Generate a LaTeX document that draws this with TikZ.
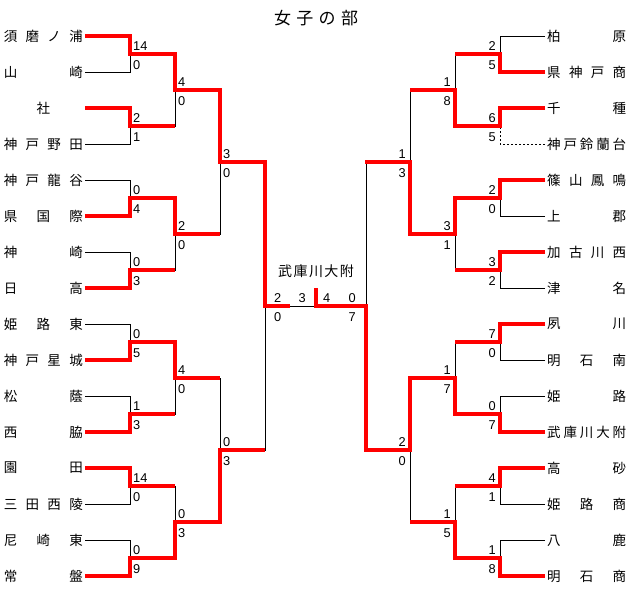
\documentclass[tikz,border=0pt]{standalone}
\usepackage{fontspec}
\setmainfont{Liberation Sans}
\newfontfamily\jp{Noto Sans CJK JP}
\usetikzlibrary{positioning}

% spread the characters of a name over a fixed width
\newcommand\spreadname[2][79pt]{\makebox[#1][s]{\expandafter\spreadstep#2\relax}}
\def\spreadstep#1#2{#1\ifx\relax#2\else\hfill\expandafter\spreadstep\expandafter#2\fi}

\begin{document}
\begin{tikzpicture}[x=1pt,y=-1pt,
    win/.style={red,line width=3.4pt},
    lose/.style={black,line width=1pt},
    gap/.style={lose,dash pattern=on 2pt off 2pt},
    team/.style={inner xsep=2pt,inner ysep=0pt,font=\jp\fontsize{13.5}{16}\selectfont},
    score/.style={inner sep=0pt,font=\fontsize{12.8}{14}\selectfont}]

  \path[use as bounding box,fill=white] (0,0) rectangle (631,595);

  \node[font=\jp\fontsize{17}{20}\selectfont] (title) at (316,18) {\spreadname[84pt]{女子の部}};

  %==================== Teams ====================
  \foreach \i/\n in {1/須磨ノ浦,2/山崎,3/\hfill 社\hfill,4/神戸野田,
      5/神戸龍谷,6/県国際,7/神崎,8/日高,9/姫路東,10/神戸星城,
      11/松蔭,12/西脇,13/園田,14/三田西陵,15/尼崎東,16/常盤} {
    \node[team,anchor=east] (l\i) at (85,36*\i) {\spreadname{\n}};
  }
  \foreach \i/\n in {1/柏原,2/県神戸商,3/千種,4/神戸鈴蘭台,
      5/篠山鳳鳴,6/上郡,7/加古川西,8/津名,9/夙川,10/明石南,
      11/姫路,12/武庫川大附,13/高砂,14/姫路商,15/八鹿,16/明石商} {
    \node[team,anchor=west] (r\i) at (545,36*\i) {\spreadname{\n}};
  }

  %==================== Bracket points ====================
  \foreach \k in {1,...,8} {
    \coordinate (la\k) at (130,72*\k-18);
    \coordinate (ra\k) at (500,72*\k-18);
  }
  \foreach \k in {1,...,4} {
    \coordinate (lb\k) at (175,144*\k-54);
    \coordinate (rb\k) at (455,144*\k-54);
  }
  \foreach \k in {1,2} {
    \coordinate (lc\k) at (220,288*\k-126);
    \coordinate (rc\k) at (410,288*\k-126);
  }
  \coordinate (ld) at (265,306);
  \coordinate (rd) at (366,306);
  \coordinate (lf) at (290,306);
  \coordinate (fin) at (316,306);
  \coordinate (cup) at (316,288);

  % game / upper / lower / winner / upper score / lower score / lower line
  \def\leftgames{la1/l1/l2/l1/14/0/lose,la2/l3/l4/l3/2/1/lose,
    la3/l5/l6/l6/0/4/lose,la4/l7/l8/l8/0/3/lose,
    la5/l9/l10/l10/0/5/lose,la6/l11/l12/l12/1/3/lose,
    la7/l13/l14/l13/14/0/lose,la8/l15/l16/l16/0/9/lose,
    lb1/la1/la2/la1/4/0/lose,lb2/la3/la4/la3/2/0/lose,
    lb3/la5/la6/la5/4/0/lose,lb4/la7/la8/la8/0/3/lose,
    lc1/lb1/lb2/lb1/3/0/lose,lc2/lb3/lb4/lb4/0/3/lose}
  \def\rightgames{ra1/r1/r2/r2/2/5/lose,ra2/r3/r4/r3/6/5/gap,
    ra3/r5/r6/r5/2/0/lose,ra4/r7/r8/r7/3/2/lose,
    ra5/r9/r10/r9/7/0/lose,ra6/r11/r12/r12/0/7/lose,
    ra7/r13/r14/r13/4/1/lose,ra8/r15/r16/r16/1/8/lose,
    rb1/ra1/ra2/ra2/1/8/lose,rb2/ra3/ra4/ra3/3/1/lose,
    rb3/ra5/ra6/ra6/1/7/lose,rb4/ra7/ra8/ra8/1/5/lose,
    rc1/rb1/rb2/rb2/1/3/lose,rc2/rb3/rb4/rb3/2/0/lose}

  %==================== Black lines first ====================
  \foreach \gj/\gu/\gd/\gw/\gs/\gt/\gl in \leftgames {
    \draw[lose] (\gu) -| (\gj);
    \draw[\gl] (\gd) -| (\gj);
  }
  \foreach \gj/\gu/\gd/\gw/\gs/\gt/\gl in \rightgames {
    \draw[lose] (\gu) -| (\gj);
    \draw[\gl] (\gd) -| (\gj);
  }
  \draw[lose] (lc1) -| (ld) (lc2) -| (ld);
  \draw[lose] (rc1) -| (rd) (rc2) -| (rd);
  \draw[lose] (lf) -- (fin);

  %==================== Winners in red, with scores ====================
  \foreach \gj/\gu/\gd/\gw/\gs/\gt/\gl in \leftgames {
    \draw[win] (\gw) -| (\gj) -- +(45,0);
    \node[score,above right=3pt and 3pt of \gj] (\gj u) {\gs};
    \node[score,below right=6pt and 3pt of \gj] (\gj d) {\gt};
  }
  \foreach \gj/\gu/\gd/\gw/\gs/\gt/\gl in \rightgames {
    \draw[win] (\gw) -| (\gj) -- +(-45,0);
    \node[score,above left=3pt and 4pt of \gj] (\gj u) {\gs};
    \node[score,below left=6pt and 4pt of \gj] (\gj d) {\gt};
  }

  % semifinals and final
  \draw[win] (lc1) -| (ld) -- (lf);
  \draw[win] (rc2) -| (rd) -- (fin) -- (cup);
  \node[score,above right=3pt and 9pt of ld] (ldu) {2};
  \node[score,below right=6pt and 9pt of ld] (ldd) {0};
  \node[score,above left=3pt and 10pt of rd] (rdu) {0};
  \node[score,below left=6pt and 10pt of rd] (rdd) {7};
  \node[score,above left=3pt and 10pt of fin] (finl) {3};
  \node[score,above right=3pt and 7pt of fin] (finr) {4};
  \node[font=\jp\fontsize{14}{16}\selectfont,inner sep=0pt,above=10pt of cup] (champ)
    {\spreadname[76pt]{武庫川大附}};

\end{tikzpicture}
\end{document}
